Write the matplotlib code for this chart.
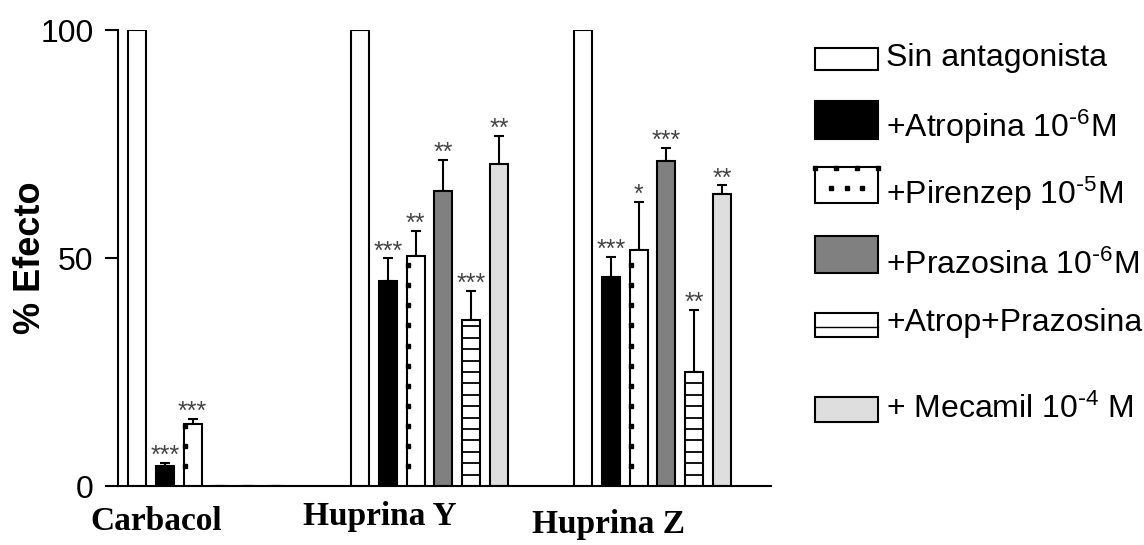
import numpy as np
import matplotlib.pyplot as plt
from matplotlib.patches import Rectangle

plt.rcParams['font.family'] = ['Liberation Sans', 'DejaVu Sans']
plt.rcParams['mathtext.default'] = 'regular'

groups = ['Carbacol', 'Huprina Y', 'Huprina Z']
series = ['Sin antagonista', r'+Atropina 10$^{\text{-}6}$M', r'+Pirenzep 10$^{\text{-}5}$M',
          r'+Prazosina 10$^{\text{-}6}$M', '+Atrop+Prazosina', r'+ Mecamil 10$^{\text{-}4}$ M']

# values per series: [Carbacol, Huprina Y, Huprina Z]
sin_antag = [100, 100, 100]
atropina = [4.4, 45.0, 45.8]
pirenzep = [13.7, 50.4, 51.8]
prazosina = [0, 64.8, 71.3]
atrop_praz = [0, 36.3, 24.9]
mecamil = [0, 70.6, 64.0]

atropina_err = [0.7, 4.9, 4.5]
pirenzep_err = [1.0, 5.5, 10.5]
prazosina_err = [0, 6.7, 2.8]
atrop_praz_err = [0, 6.5, 13.7]
mecamil_err = [0, 6.2, 1.9]

stars = [['', '***', '***', '', '', ''],
         ['', '***', '**', '**', '***', '**'],
         ['', '***', '*', '***', '**', '**']]

values = [sin_antag, atropina, pirenzep, prazosina, atrop_praz, mecamil]
errors = [[0, 0, 0], atropina_err, pirenzep_err, prazosina_err, atrop_praz_err, mecamil_err]
colors = ['white', 'black', 'white', '#808080', 'white', '#dedede']

fig = plt.figure(figsize=(11.44, 5.45), dpi=100)
ax = fig.add_axes([118/1144, 1-486/545, (771-118)/1144, (486-30)/545])

step = 0.1247
width = 0.0807
gx = np.arange(len(groups))

for i in range(6):
    x = gx + i*step
    ax.bar(x, values[i], width, color=colors[i], edgecolor='black', linewidth=1.5, zorder=2)
    if i > 0:
        ax.errorbar(x, values[i], yerr=[np.zeros(3), errors[i]], fmt='none',
                    ecolor='black', elinewidth=1.5, capsize=3.5, capthick=1.5, zorder=1)
    for g in range(3):
        top = values[i][g] + errors[i][g]
        if stars[g][i]:
            ax.annotate(stars[g][i], (x[g], top), xytext=(0, 0), textcoords='offset points',
                        ha='center', va='baseline', fontsize=18, color='#444444')
        # pirenzepine: small squares along the inner left edge
        if i == 2 and values[i][g] > 0:
            ys = np.arange(4.4, values[i][g], 4.4)
            ax.plot(np.full(len(ys), x[g] - width/2 + 0.008), ys, 's', color='black',
                    markersize=3.5, zorder=3)
        # atrop+prazosina: horizontal lines
        if i == 4 and values[i][g] > 0:
            ys = np.arange(2.5, values[i][g], 2.5)
            ax.hlines(ys, x[g] - width/2, x[g] + width/2, color='black', linewidth=1.3, zorder=3)

ax.set_xlim((118-137)/223, (771-137)/223)
ax.set_ylim(0, 100)
ax.set_yticks([0, 50, 100])
ax.set_xticks([])
ax.spines['top'].set_visible(False)
ax.spines['right'].set_visible(False)
ax.spines['left'].set_linewidth(1.5)
ax.spines['bottom'].set_linewidth(1.5)
ax.tick_params(axis='y', direction='out', length=9.5, width=1.5, labelsize=23, pad=8)
fig.text(30/1144, 1-258/545, '% Efecto', rotation=90, ha='center', va='center',
         fontsize=26, fontweight='bold')

label_pos = [(156, 522), (380, 517), (608, 524)]
for name, (px, py) in zip(groups, label_pos):
    fig.text(px/1144, 1-py/545, name, ha='center', va='center', fontsize=24,
             fontweight='bold', family='Liberation Serif')

# legend drawn in pixel space
lg = fig.add_axes([0, 0, 1, 1])
lg.set_xlim(0, 1144)
lg.set_ylim(545, 0)
lg.axis('off')
boxes = [(48, 70, 58), (101, 139, 127), (167, 203, 194), (236, 273, 265), (313, 337, 323), (397, 422, 409)]
for i, (y0, y1, ty) in enumerate(boxes):
    lg.add_patch(Rectangle((815, y0), 63, y1-y0, facecolor=colors[i], edgecolor='black', linewidth=1.5))
    if i == 2:
        lg.plot(np.linspace(815, 878, 4), np.full(4, y0 + 1), 's', color='black', markersize=3)
        lg.plot(np.linspace(815, 878, 5)[1:4], np.full(3, (y0+y1)/2 + 3), 's', color='black', markersize=3)
    if i == 4:
        lg.plot([815, 878], [(y0+y1)/2 + 2, (y0+y1)/2 + 2], color='black', linewidth=1)
    lg.text(886, ty, series[i], ha='left', va='center', fontsize=23)

plt.savefig('out.png', dpi=100)
